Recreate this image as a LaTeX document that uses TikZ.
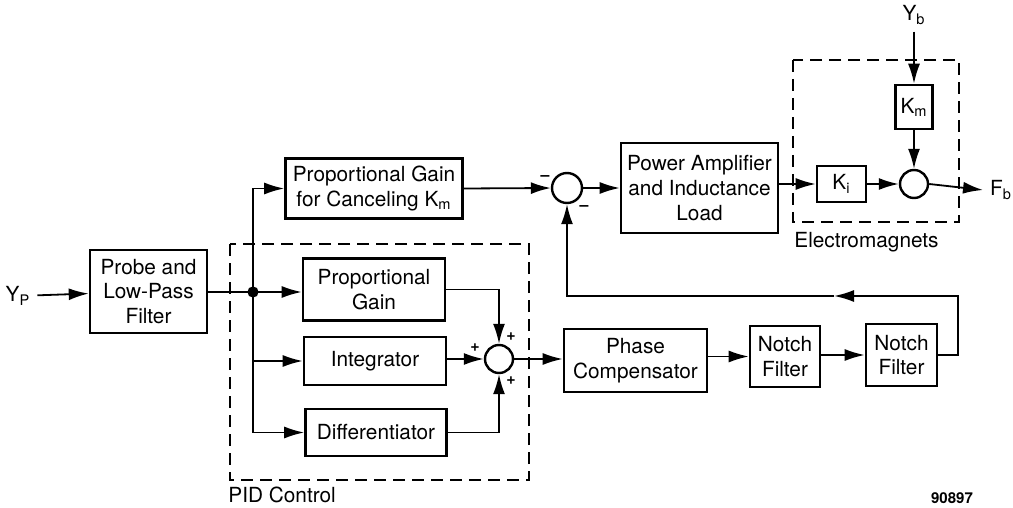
\documentclass[tikz,border=0pt]{standalone}
\usepackage{fontspec}
\setmainfont{TeX Gyre Heros}
\usetikzlibrary{arrows.meta}
\tikzset{
  bloque/.style={draw, line width=1.3pt, align=center, inner sep=0pt},
  suma/.style={draw, circle, line width=1.2pt, minimum size=14pt, inner sep=0pt},
  flecha/.style={line width=0.9pt, -{Latex[length=10pt,width=6pt]}},
  linea/.style={line width=0.9pt},
  marco/.style={line width=0.9pt, dash pattern=on 6pt off 3.5pt},
  signo/.style={font=\fontsize{8}{8}\selectfont\bfseries, inner sep=0pt}
}
\begin{document}
\begin{tikzpicture}[x=0.5pt, y=-0.5pt, font=\fontsize{10.4pt}{12.4pt}\selectfont]
  \useasboundingbox (0,0) rectangle (1013,508);
  % Bloques
  \node[bloque, minimum width=58.5pt, minimum height=41.5pt] (probe) at (148.5,291.5) {Probe and\\Low-Pass\\Filter};
  \node[bloque, minimum width=88.5pt, minimum height=30pt] (pgk) at (374,188.5) {Proportional Gain\\for Canceling K\textsubscript{m}};
  \node[bloque, minimum width=71pt, minimum height=31pt] (pg) at (374,289.5) {Proportional\\Gain};
  \node[bloque, minimum width=71pt, minimum height=24pt] (integ) at (375,361) {Integrator};
  \node[bloque, minimum width=70.5pt, minimum height=23.5pt] (diff) at (376,432.5) {Differentiator};
  \node[bloque, minimum width=71.5pt, minimum height=31.5pt] (phase) at (635.5,360.5) {Phase\\Compensator};
  \node[bloque, minimum width=35pt, minimum height=30.5pt] (nf1) at (785,356.5) {Notch\\Filter};
  \node[bloque, minimum width=35.5pt, minimum height=31pt] (nf2) at (901.5,355) {Notch\\Filter};
  \node[bloque, minimum width=78.5pt, minimum height=45pt] (pa) at (699.5,188) {Power Amplifier\\and Inductance\\Load};
  \node[bloque, minimum width=24.5pt, minimum height=18pt] (ki) at (841.5,184) {K\textsubscript{i}};
  \node[bloque, minimum width=18.5pt, minimum height=22pt] (km) at (914,107) {K\textsubscript{m}};

  % Sumadores
  \node[suma, minimum size=15pt] (sum1) at (567,188) {};
  \node[suma] (sum2) at (914,184) {};
  \node[suma] (sum3) at (499,359) {};

  % Entradas y salidas
  \node (yp) at (18,296) {Y\textsubscript{P}};
  \node (yb) at (914,15) {Y\textsubscript{b}};
  \node (fb) at (1001,190) {F\textsubscript{b}};
  \coordinate (jn) at (253,292);
  \coordinate (fbk) at (958,296);
  \coordinate (fbm) at (834,296);

  % Conexiones
  \draw[flecha] (yp) -- (probe);
  \draw[linea] (probe.east |- jn) -- (jn);
  \fill (jn) circle (2.8pt);
  \draw[flecha] (jn) |- (pgk.west);
  \draw[flecha] (jn) -- (pg.west |- jn);
  \draw[flecha] (jn) |- (integ.west);
  \draw[flecha] (jn) |- (diff.west);
  \draw[flecha] (pg.east) -| (sum3.north);
  \draw[flecha] (integ.east |- sum3) -- (sum3.west);
  \draw[flecha] (diff.east) -| (sum3.south);
  \draw[flecha] (sum3.east) -- (phase.west |- sum3);
  \draw[flecha] (phase.east |- nf1) -- (nf1.west);
  \draw[flecha] (nf1.east |- nf2) -- (nf2.west);
  \draw[flecha] (nf2.east) -| (fbk) -- (fbm);
  \draw[flecha] (fbm) -| (sum1.south);
  \draw[flecha] (pgk.east) -- (sum1.west);
  \draw[flecha] (sum1.east) -- (pa.west |- sum1);
  \draw[flecha] (pa.east |- ki) -- (ki.west);
  \draw[flecha] (ki.east) -- (sum2.west);
  \draw[flecha] (yb) -- (km.north);
  \draw[flecha] (km.south) -- (sum2.north);
  \draw[flecha] (sum2.east) -- (fb.west);

  % Signos
  \node[signo] at (545,178) {--};
  \node[signo] at (584,208) {--};
  \node[signo] at (511,337) {+};
  \node[signo] at (475,348) {+};
  \node[signo] at (511,381) {+};

  % Marcos
  \draw[marco] (230,244) rectangle (529,480);
  \draw[marco] (793,60) rectangle (959,222);
  \node[anchor=west, inner sep=0pt] at (228,495) {PID Control};
  \node[anchor=west, inner sep=0pt] at (794,242) {Electromagnets};
  \node[font=\fontsize{7.5pt}{9pt}\selectfont\bfseries] at (952,498) {90897};
\end{tikzpicture}
\end{document}
